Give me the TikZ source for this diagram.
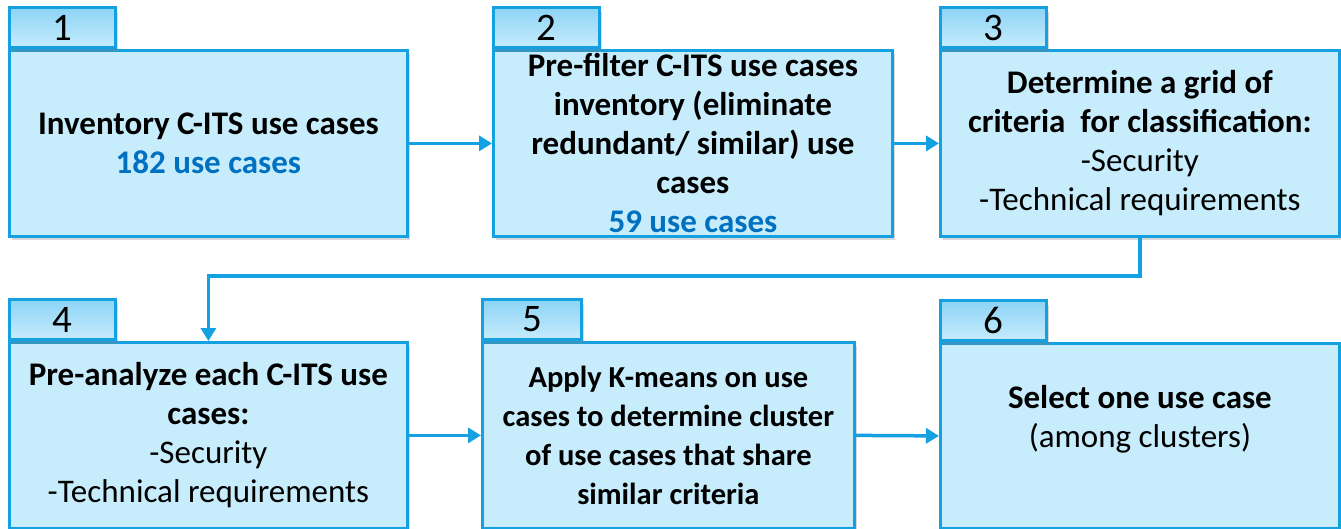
\documentclass[tikz,border=0pt]{standalone}
\usepackage{fontspec}
\setmainfont{Carlito}
\usetikzlibrary{arrows.meta,shadows}
\definecolor{bord}{RGB}{20,160,225}
\definecolor{boxfill}{RGB}{199,236,252}
\definecolor{tabtop}{RGB}{140,212,246}
\definecolor{numblue}{RGB}{0,112,192}
\begin{document}
\begin{tikzpicture}[x=1pt,y=-1pt,
  mainbox/.style={draw=bord, line width=2.8pt, fill=boxfill, anchor=north west,
    minimum width=#1, minimum height=186pt, inner sep=0pt, align=center,
    font=\fontsize{33}{39}\selectfont,
    drop shadow={opacity=0.3,shadow xshift=3pt,shadow yshift=-4pt}},
  tabbox/.style={draw=bord, line width=2.8pt, top color=tabtop, bottom color=boxfill,
    anchor=south west, minimum width=106pt, minimum height=40pt, inner sep=0pt,
    font=\fontsize{39}{39}\selectfont,
    drop shadow={opacity=0.3,shadow xshift=3pt,shadow yshift=-4pt}},
  conn/.style={draw=bord, line width=3.5pt, -{Triangle[length=13pt,width=15pt]}},
  hl/.style={text=numblue}
]
\useasboundingbox (0,0) rectangle (1341,529);

% main boxes
\node[mainbox=398pt] (b1) at (8,49) {\textbf{Inventory C-ITS use cases}\\\textbf{\color{numblue}182 use cases}};
\node[mainbox=399pt] (b2) at (492,49) {\textbf{Pre-filter C-ITS use cases}\\\textbf{inventory (eliminate}\\\textbf{redundant/ similar) use}\\\textbf{cases}\\\textbf{\color{numblue}59 use cases}};
\node[mainbox=399pt] (b3) at (939,49) {\textbf{Determine a grid of}\\\textbf{criteria~ for classification:}\\-Security\\-Technical requirements};
\node[mainbox=398pt] (b4) at (8,341) {\textbf{Pre-analyze each C-ITS use}\\\textbf{cases:}\\-Security\\-Technical requirements};
\node[mainbox=372pt, font=\fontsize{30.5}{39}\selectfont] (b5) at (481,341) {\textbf{Apply K-means on use}\\\textbf{cases to determine cluster}\\\textbf{of use cases that share}\\\textbf{similar criteria}};
\node[mainbox=399pt, minimum height=185pt] (b6) at (939,342) {\textbf{Select one use case}\\(among clusters)\\\mbox{}};

% tabs
\node[tabbox] (t1) at (8,49) {1};
\node[tabbox] (t2) at (492,49) {2};
\node[tabbox] (t3) at (939,49) {3};
\node[tabbox] (t4) at (8,341) {4};
\node[tabbox, minimum width=99pt] (t5) at (481,341) {5};
\node[tabbox] (t6) at (939,342) {6};

% connectors
\draw[conn] (b1.east) -- (b2.west);
\draw[conn] (b2.east) -- (b3.west);
\draw[conn] (b3.south) -- ++(0,38) -| (b4.north);
\draw[conn] (b4.east) -- (b5.west);
\draw[conn] (b5.east) -- (b6.west);
\end{tikzpicture}
\end{document}
